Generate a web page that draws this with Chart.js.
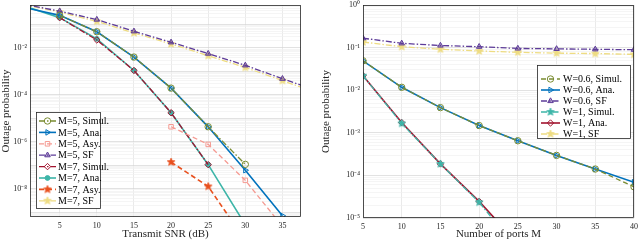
<!DOCTYPE html>
<html>
<head>
<meta charset="utf-8">
<script src="https://cdn.jsdelivr.net/npm/chart.js@4.4.0/dist/chart.umd.min.js"></script>
<style>
  body { margin: 0; background: #fff; }
  #wrap { display: flex; width: 640px; height: 241px; }
  canvas { display: block; }
</style>
</head>
<body>
<div id="wrap">
  <canvas id="snrChart" width="320" height="241"></canvas>
  <canvas id="portsChart" width="320" height="241"></canvas>
</div>
<script>
// ---- données ----
const snrDb = [0, 5, 10, 15, 20, 25, 30, 35, 40];
const m5Simul = [null, 0.245, 0.049, 4.1e-3, 1.95e-4, 4.4e-6, 1.1e-7, null, null];
const m5Ana   = [0.55, 0.245, 0.049, 4.07e-3, 1.95e-4, 4.37e-6, 6.17e-8, 7.08e-10, null];
const m5Asy   = [null, null, null, null, 4.4e-6, 7.8e-7, 2.3e-8, 2.5e-10, null];
const m5SF    = [0.74, 0.37, 0.162, 0.0513, 0.0174, 5.75e-3, 1.82e-3, 4.9e-4, 1.41e-4];
const m7Simul = [null, 0.195, 0.0219, 1.1e-3, 1.74e-5, 1.07e-7, null, null, null];
const m7Ana   = [0.65, 0.195, 0.0245, 1.1e-3, 1.74e-5, 1.07e-7, 2.95e-10, null, null];
const m7Asy   = [null, null, null, null, 1.38e-7, 1.26e-8, 6.3e-11, null, null];
const m7SF    = [0.71, 0.339, 0.135, 0.0437, 0.0148, 4.68e-3, 1.48e-3, 4.07e-4, 1.12e-4];

const portsM = [5, 10, 15, 20, 25, 30, 35, 40];
const w06Simul = [0.049, 0.0117, 3.9e-3, 1.48e-3, 6.5e-4, 2.95e-4, 1.41e-4, 5.4e-5];
const w06Ana   = [0.049, 0.0117, 3.9e-3, 1.48e-3, 6.5e-4, 2.95e-4, 1.41e-4, 6.9e-5];
const w06SF    = [0.166, 0.126, 0.112, 0.105, 0.0955, 0.0933, 0.0912, 0.0891];
const w1Simul  = [0.0219, 1.66e-3, 1.86e-4, 2.34e-5, 1.78e-6, null, null, null];
const w1Ana    = [0.0219, 1.74e-3, 1.86e-4, 2.45e-5, 2.5e-6, null, null, null];
const w1SF     = [0.135, 0.105, 0.0912, 0.0832, 0.0776, 0.0741, 0.0724, 0.0692];

const snrTicks = [5, 10, 15, 20, 25, 30, 35];
const portsTicks = [5, 10, 15, 20, 25, 30, 35, 40];
const snrDecadeLabels = [-2, -4, -6, -8];
const portsDecadeLabels = [0, -1, -2, -3, -4, -5];

const FONT = "'Liberation Serif', 'Times New Roman', serif";
const DASH = [5, 3];
const DASHDOT = [6, 2, 1.5, 2];

// étoile pleine (5 branches) pour les marqueurs
function starImg(r, fill, stroke) {
  const c = document.createElement('canvas');
  c.width = c.height = 2 * r + 2;
  const g = c.getContext('2d');
  g.beginPath();
  for (let i = 0; i < 10; i++) {
    const rad = i % 2 === 0 ? r : r * 0.45;
    const a = -Math.PI / 2 + i * Math.PI / 5;
    const px = r + 1 + rad * Math.cos(a), py = r + 1 + rad * Math.sin(a);
    i === 0 ? g.moveTo(px, py) : g.lineTo(px, py);
  }
  g.closePath();
  g.fillStyle = fill;
  g.fill();
  g.strokeStyle = stroke;
  g.lineWidth = 0.8;
  g.stroke();
  return c;
}

function toXY(xs, ys) {
  return xs.map((x, i) => ({ x: x, y: ys[i] }));
}

function serie(label, xs, ys, color, opt) {
  return Object.assign({
    label: label,
    data: toXY(xs, ys),
    borderColor: color,
    pointBorderColor: color,
    pointBackgroundColor: 'rgba(0,0,0,0)',
    borderWidth: 1.3,
    pointRadius: 3.2,
    pointBorderWidth: 1,
    pointStyle: 'circle',
    borderDash: [],
    spanGaps: false,
    tension: 0
  }, opt);
}

// grille log : décades + sous-graduations
function logTicks(lo, hi) {
  const t = [];
  for (let e = Math.floor(lo); e <= Math.ceil(hi); e++) {
    for (let m = 1; m <= 9; m++) {
      const v = m * Math.pow(10, e);
      const lv = Math.log10(v);
      if (lv >= lo - 1e-9 && lv <= hi + 1e-9) t.push({ value: v });
    }
  }
  return t;
}
function isDecade(v) {
  const l = Math.log10(v);
  return Math.abs(l - Math.round(l)) < 1e-6;
}
const SUP = { '-': '\u207B', '0': '\u2070', '1': '\u00B9', '2': '\u00B2', '3': '\u00B3', '4': '\u2074', '5': '\u2075', '6': '\u2076', '7': '\u2077', '8': '\u2078', '9': '\u2079' };
function pow10Label(e) {
  return '10' + String(e).split('').map(ch => SUP[ch]).join('');
}

// cadre autour de la zone de tracé
const boxPlugin = {
  id: 'box',
  afterDraw(chart) {
    const a = chart.chartArea, ctx = chart.ctx;
    ctx.save();
    ctx.strokeStyle = '#262626';
    ctx.lineWidth = 0.8;
    ctx.strokeRect(a.left + 0.5, a.top + 0.5, a.right - a.left - 1, a.bottom - a.top - 1);
    ctx.restore();
  }
};

// légende style MATLAB (trait + marqueur)
const matLegend = {
  id: 'matLegend',
  afterDraw(chart, args, o) {
    if (!o || !o.box) return;
    const ctx = chart.ctx;
    ctx.save();
    ctx.fillStyle = '#fff';
    ctx.fillRect(o.box[0], o.box[1], o.box[2], o.box[3]);
    ctx.strokeStyle = '#262626';
    ctx.lineWidth = 0.8;
    ctx.strokeRect(o.box[0] + 0.5, o.box[1] + 0.5, o.box[2], o.box[3]);
    chart.data.datasets.forEach((ds, i) => {
      const y = o.firstY + i * o.rowH;
      ctx.strokeStyle = ds.borderColor;
      ctx.lineWidth = ds.borderWidth;
      ctx.setLineDash(ds.borderDash || []);
      ctx.beginPath();
      ctx.moveTo(o.lineX0, y);
      ctx.lineTo(o.lineX1, y);
      ctx.stroke();
      ctx.setLineDash([]);
      ctx.fillStyle = ds.pointBackgroundColor;
      ctx.strokeStyle = ds.pointBorderColor;
      ctx.lineWidth = ds.pointBorderWidth;
      Chart.helpers.drawPoint(ctx, {
        pointStyle: ds.pointStyle,
        rotation: ds.pointRotation || 0,
        radius: ds.pointRadius,
        borderWidth: ds.pointBorderWidth
      }, (o.lineX0 + o.lineX1) / 2, y);
      ctx.fillStyle = '#000';
      ctx.font = '10px ' + FONT;
      ctx.textBaseline = 'middle';
      ctx.fillText(ds.label, o.textX, y + 0.5);
    });
    ctx.restore();
  }
};

function makeOptions(xMin, xMax, xTicks, yLo, yHi, decadeLabels, xTitle, yWidth, xHeight, padding, legend) {
  return {
    responsive: false,
    animation: false,
    layout: { padding: padding },
    plugins: {
      legend: { display: false },
      tooltip: { enabled: false },
      matLegend: legend
    },
    scales: {
      x: {
        type: 'linear',
        min: xMin,
        max: xMax,
        afterBuildTicks: s => { s.ticks = xTicks.map(v => ({ value: v })); },
        afterFit: s => { s.height = xHeight; s.paddingLeft = 0; s.paddingRight = 0; },
        grid: { color: '#e1e1e1', lineWidth: 0.7, drawTicks: false },
        border: { display: false },
        ticks: { color: '#262626', font: { family: FONT, size: 8 }, padding: 4, maxRotation: 0 },
        title: { display: true, text: xTitle, color: '#262626', font: { family: FONT, size: 11 }, padding: { top: 0, bottom: 0 } }
      },
      y: {
        type: 'logarithmic',
        min: Math.pow(10, yLo),
        max: Math.pow(10, yHi),
        afterBuildTicks: s => { s.ticks = logTicks(yLo, yHi); },
        afterFit: s => { s.width = yWidth; s.paddingTop = 0; s.paddingBottom = 0; },
        grid: {
          drawTicks: false,
          lineWidth: 0.7,
          color: c => isDecade(c.tick.value) ? '#d6d6d6' : '#f0f0f0'
        },
        border: { display: false },
        ticks: {
          color: '#262626',
          font: { family: FONT, size: 8 },
          padding: 3,
          autoSkip: false,
          callback: v => {
            const e = Math.round(Math.log10(v));
            return isDecade(v) && decadeLabels.includes(e) ? pow10Label(e) : '';
          }
        },
        title: { display: true, text: 'Outage probability', color: '#262626', font: { family: FONT, size: 11 }, padding: { top: 0, bottom: 2 } }
      }
    }
  };
}

// couleurs
const OLIVE = '#7a8c32', BLUE = '#0072bd', PINK = '#f59a92', PURPLE = '#5e3c99';
const DRED = '#a2142f', TEAL = '#3db5a8', ORANGE = '#e8501e', YELLOW = '#eedc82';

const snrDatasets = [
  serie('M=5, Simul.', snrDb, m5Simul, OLIVE, { borderDash: DASHDOT }),
  serie('M=5, Ana.', snrDb, m5Ana, BLUE, { pointStyle: 'triangle', pointRotation: 90, borderWidth: 1.6 }),
  serie('M=5, Asy.', snrDb, m5Asy, PINK, { pointStyle: 'rect', borderDash: DASH }),
  serie('M=5, SF', snrDb, m5SF, PURPLE, { pointStyle: 'triangle', borderDash: DASHDOT, pointBackgroundColor: 'rgba(94,60,153,0.45)' }),
  serie('M=7, Simul.', snrDb, m7Simul, DRED, { pointStyle: 'rectRot', borderDash: DASHDOT }),
  serie('M=7, Ana.', snrDb, m7Ana, TEAL, { pointRadius: 2.4, pointBackgroundColor: TEAL, borderWidth: 1.6 }),
  serie('M=7, Asy.', snrDb, m7Asy, ORANGE, { pointStyle: starImg(4, ORANGE, ORANGE), borderDash: DASH, borderWidth: 1.6 }),
  serie('M=7, SF', snrDb, m7SF, YELLOW, { pointStyle: starImg(4, YELLOW, YELLOW), borderDash: DASHDOT })
];

const portsDatasets = [
  serie('W=0.6, Simul.', portsM, w06Simul, OLIVE, { borderDash: DASH }),
  serie('W=0.6, Ana.', portsM, w06Ana, BLUE, { pointStyle: 'triangle', pointRotation: 90, borderWidth: 1.6 }),
  serie('W=0.6, SF', portsM, w06SF, PURPLE, { pointStyle: 'triangle', borderDash: DASHDOT, pointBackgroundColor: 'rgba(94,60,153,0.45)' }),
  serie('W=1, Simul.', portsM, w1Simul, TEAL, { pointStyle: starImg(4, TEAL, TEAL), borderDash: DASHDOT }),
  serie('W=1, Ana.', portsM, w1Ana, DRED, { pointStyle: 'rectRot', borderWidth: 1.6 }),
  serie('W=1, SF', portsM, w1SF, YELLOW, { pointStyle: starImg(4, YELLOW, YELLOW), borderDash: DASHDOT })
];

new Chart(document.getElementById('snrChart'), {
  type: 'line',
  data: { datasets: snrDatasets },
  options: makeOptions(1, 37.5, snrTicks, -9.2, -0.17, snrDecadeLabels, 'Transmit SNR (dB)', 30, 24,
    { left: 0, right: 19, top: 5, bottom: 0 },
    { box: [36, 112, 64, 96], firstY: 121, rowH: 11.4, lineX0: 39, lineX1: 56, textX: 58 }),
  plugins: [boxPlugin, matLegend]
});

new Chart(document.getElementById('portsChart'), {
  type: 'line',
  data: { datasets: portsDatasets },
  options: makeOptions(5, 40, portsTicks, -5, 0, portsDecadeLabels, 'Number of ports M', 43, 23,
    { left: 0, right: 6, top: 5, bottom: 0 },
    { box: [217, 65, 93, 73], firstY: 79, rowH: 11, lineX0: 221, lineX1: 240, textX: 243 }),
  plugins: [boxPlugin, matLegend]
});
</script>
</body>
</html>
